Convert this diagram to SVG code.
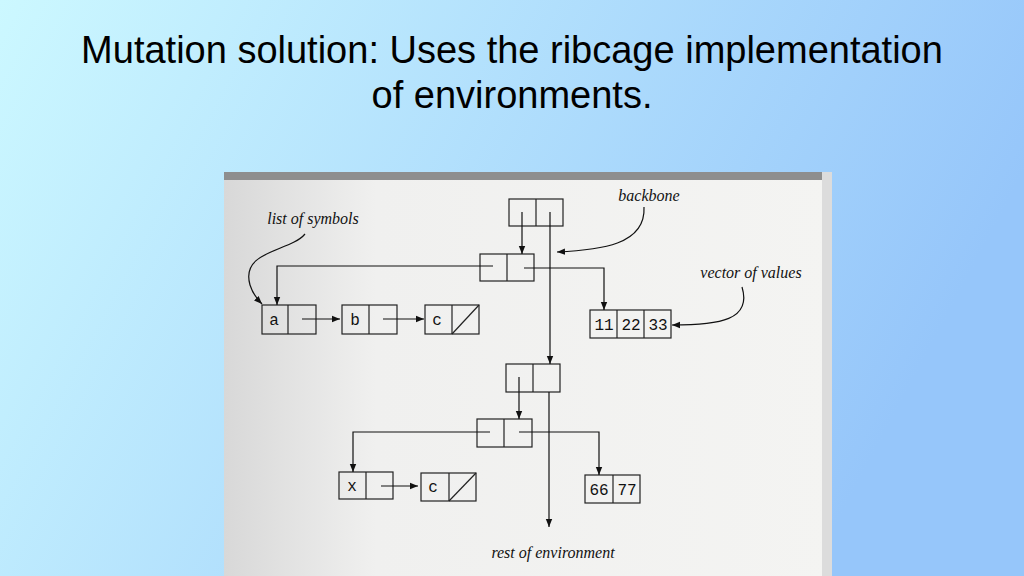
<svg xmlns="http://www.w3.org/2000/svg" width="1024" height="576" viewBox="0 0 1024 576">
<defs>
<linearGradient id="bg" x1="0" y1="0" x2="1" y2="0.3"><stop offset="0" stop-color="#ccf8ff"/><stop offset="1" stop-color="#96c6fa"/></linearGradient>
<linearGradient id="paper" x1="0" y1="0" x2="1" y2="0"><stop offset="0" stop-color="#d8d8d8"/><stop offset="0.25" stop-color="#f0f0ef"/><stop offset="1" stop-color="#f4f4f2"/></linearGradient>
<marker id="ah" viewBox="0 0 10 10" refX="10" refY="5" markerWidth="8" markerHeight="8" markerUnits="userSpaceOnUse" orient="auto"><path d="M0,1 L10,5 L0,9 z" fill="#111"/></marker>
<style>
.t{font-family:"Liberation Sans",Arial,sans-serif;font-size:38px;fill:#000;text-anchor:middle}
.l{font-family:"Liberation Serif",serif;font-style:italic;font-size:16px;fill:#111;text-anchor:middle}
.m{font-family:"Liberation Mono",monospace;font-size:16px;fill:#111;text-anchor:middle}
.b{fill:none;stroke:#222;stroke-width:1.2}
.c{fill:none;stroke:#111;stroke-width:1.2;marker-end:url(#ah)}
</style>
</defs>
<rect width="1024" height="576" fill="url(#bg)"/>
<text class="t" x="512" y="63">Mutation solution: Uses the ribcage implementation</text>
<text class="t" x="512" y="108">of environments.</text>
<rect x="224" y="172" width="608" height="404" fill="url(#paper)"/>
<rect x="224" y="172" width="608" height="8" fill="#8e8e8e"/>
<rect x="822" y="172" width="10" height="404" fill="#dcdcdc"/>
<g id="n1"><rect class="b" x="509" y="199" width="54" height="27"/><line class="b" x1="536" y1="199" x2="536" y2="226"/></g>
<g id="n2"><rect class="b" x="480" y="254" width="54" height="27"/><line class="b" x1="507" y1="254" x2="507" y2="281"/></g>
<g id="na"><rect class="b" x="262" y="305" width="54" height="29"/><line class="b" x1="288" y1="305" x2="288" y2="334"/><text class="m" x="274" y="325">a</text></g>
<g id="nb"><rect class="b" x="342" y="305" width="55" height="29"/><line class="b" x1="369" y1="305" x2="369" y2="334"/><text class="m" x="355" y="325">b</text></g>
<g id="nc"><rect class="b" x="425" y="305" width="54" height="29"/><line class="b" x1="452" y1="305" x2="452" y2="334"/><line class="b" x1="452" y1="334" x2="479" y2="305"/><text class="m" x="437" y="325">c</text></g>
<g id="nv1"><rect class="b" x="590" y="310" width="81" height="28"/><line class="b" x1="617" y1="310" x2="617" y2="338"/><line class="b" x1="644" y1="310" x2="644" y2="338"/><text class="m" x="604" y="330">11</text><text class="m" x="631" y="330">22</text><text class="m" x="658" y="330">33</text></g>
<g id="n3"><rect class="b" x="506" y="364" width="54" height="28"/><line class="b" x1="533" y1="364" x2="533" y2="392"/></g>
<g id="n4"><rect class="b" x="477" y="419" width="55" height="28"/><line class="b" x1="504" y1="419" x2="504" y2="447"/></g>
<g id="nx"><rect class="b" x="339" y="472" width="54" height="27"/><line class="b" x1="366" y1="472" x2="366" y2="499"/><text class="m" x="352" y="491">x</text></g>
<g id="nc2"><rect class="b" x="421" y="473" width="55" height="28"/><line class="b" x1="449" y1="473" x2="449" y2="501"/><line class="b" x1="449" y1="501" x2="476" y2="473"/><text class="m" x="433" y="492">c</text></g>
<g id="nv2"><rect class="b" x="585" y="475" width="55" height="28"/><line class="b" x1="613" y1="475" x2="613" y2="503"/><text class="m" x="599" y="495">66</text><text class="m" x="627" y="495">77</text></g>
<g id="labels">
<text class="l" x="649" y="201">backbone</text>
<text class="l" x="313" y="224">list of symbols</text>
<text class="l" x="751" y="278">vector of values</text>
<text class="l" x="553" y="558">rest of environment</text>
</g>
<g id="connectors">
<path class="c" d="M522,212 V254"/>
<path class="c" d="M550,212 V364"/>
<path class="c" d="M493,266 H277 V305"/>
<path class="c" d="M524,268 H604 V310"/>
<path class="c" d="M302,319 H340"/>
<path class="c" d="M383,319 H424"/>
<path class="c" d="M519,377 V419"/>
<path class="c" d="M549,392 V527"/>
<path class="c" d="M490,432 H353 V472"/>
<path class="c" d="M519,432 H599 V475"/>
<path class="c" d="M381,486 H418"/>
<path class="c" d="M644,207 C646,245 600,250 557,252"/>
<path class="c" d="M305,234 C290,252 240,250 250,285 C253,295 258,300 262,304"/>
<path class="c" d="M742,287 C752,320 720,325 672,325"/>
</g>
</svg>
